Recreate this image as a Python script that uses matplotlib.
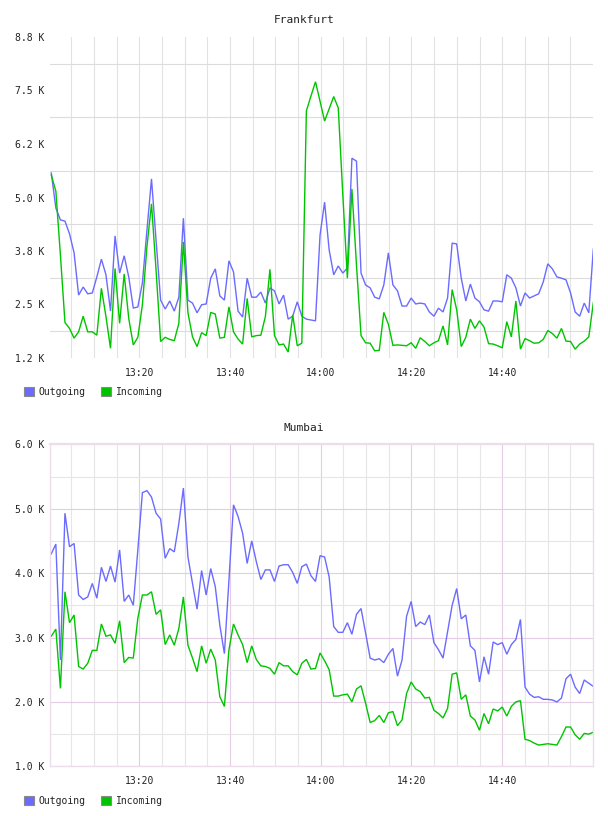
import numpy as np
import matplotlib
matplotlib.use("Agg")
import matplotlib.pyplot as plt
from matplotlib.patches import Patch

# ---------------- data (K per second, one sample per minute from ~13:00) ----------------
frankfurt_out = [5.58, 4.75, 4.47, 4.44, 4.14, 3.69, 2.69, 2.88, 2.72, 2.74,
                 3.12, 3.54, 3.17, 2.31, 4.09, 3.21, 3.62, 3.12, 2.38, 2.41,
                 2.98, 4.23, 5.44, 3.99, 2.57, 2.36, 2.55, 2.31, 2.64, 4.51,
                 2.57, 2.50, 2.27, 2.46, 2.48, 3.09, 3.31, 2.67, 2.57, 3.50,
                 3.24, 2.31, 2.17, 3.09, 2.64, 2.64, 2.76, 2.50, 2.86, 2.79,
                 2.48, 2.69, 2.12, 2.19, 2.53, 2.19, 2.12, 2.10, 2.08, 4.11,
                 4.89, 3.76, 3.17, 3.38, 3.21, 3.33, 5.93, 5.86, 3.21, 2.93,
                 2.86, 2.64, 2.60, 2.93, 3.69, 2.93, 2.79, 2.43, 2.43, 2.62,
                 2.48, 2.50, 2.48, 2.29, 2.19, 2.38, 2.29, 2.62, 3.92, 3.90,
                 3.09, 2.55, 2.95, 2.62, 2.53, 2.34, 2.31, 2.55, 2.55, 2.53,
                 3.17, 3.09, 2.86, 2.43, 2.74, 2.62, 2.67, 2.72, 3.00, 3.43,
                 3.31, 3.12, 3.09, 3.05, 2.74, 2.29, 2.19, 2.50, 2.27, 3.78]

frankfurt_in = [5.53, 5.15, 3.64, 2.04, 1.90, 1.67, 1.82, 2.19, 1.82, 1.82,
                1.74, 2.85, 2.18, 1.43, 3.32, 2.02, 3.19, 2.14, 1.51, 1.69,
                2.46, 3.84, 4.85, 3.28, 1.59, 1.69, 1.64, 1.61, 2.02, 3.95,
                2.27, 1.70, 1.47, 1.80, 1.73, 2.28, 2.24, 1.67, 1.69, 2.41,
                1.82, 1.65, 1.53, 2.61, 1.70, 1.73, 1.74, 2.18, 3.30, 1.73,
                1.51, 1.53, 1.34, 2.22, 1.49, 1.55, 7.05, 7.40, 7.74, 7.28,
                6.81, 7.10, 7.39, 7.12, 5.06, 3.09, 5.20, 3.40, 1.73, 1.56,
                1.55, 1.37, 1.38, 2.28, 2.00, 1.50, 1.51, 1.50, 1.49, 1.56,
                1.43, 1.68, 1.59, 1.49, 1.56, 1.61, 1.96, 1.51, 2.82, 2.34,
                1.47, 1.69, 2.12, 1.90, 2.08, 1.93, 1.54, 1.53, 1.49, 1.44,
                2.06, 1.70, 2.55, 1.41, 1.66, 1.61, 1.55, 1.56, 1.64, 1.85,
                1.78, 1.67, 1.90, 1.60, 1.59, 1.41, 1.53, 1.60, 1.70, 2.51]

mumbai_out = [4.30, 4.45, 2.65, 4.93, 4.41, 4.46, 3.66, 3.59, 3.63, 3.84,
              3.61, 4.09, 3.87, 4.11, 3.86, 4.36, 3.56, 3.66, 3.50, 4.36,
              5.25, 5.28, 5.18, 4.93, 4.84, 4.23, 4.38, 4.33, 4.77, 5.32,
              4.25, 3.84, 3.44, 4.04, 3.66, 4.07, 3.79, 3.19, 2.75, 3.89,
              5.06, 4.88, 4.62, 4.15, 4.50, 4.18, 3.90, 4.05, 4.05, 3.87,
              4.11, 4.13, 4.13, 4.01, 3.84, 4.10, 4.14, 3.96, 3.87, 4.27,
              4.25, 3.94, 3.17, 3.08, 3.08, 3.23, 3.05, 3.36, 3.45, 3.07,
              2.68, 2.65, 2.67, 2.61, 2.74, 2.83, 2.40, 2.65, 3.33, 3.56,
              3.17, 3.24, 3.20, 3.35, 2.92, 2.81, 2.68, 3.09, 3.50, 3.76,
              3.29, 3.35, 2.87, 2.80, 2.31, 2.70, 2.43, 2.93, 2.89, 2.92,
              2.74, 2.89, 2.97, 3.28, 2.23, 2.12, 2.07, 2.08, 2.04, 2.04,
              2.03, 2.00, 2.06, 2.36, 2.43, 2.23, 2.13, 2.34, 2.29, 2.24]

mumbai_in = [3.02, 3.13, 2.21, 3.71, 3.23, 3.35, 2.55, 2.51, 2.60, 2.80,
             2.80, 3.21, 3.02, 3.04, 2.91, 3.26, 2.61, 2.69, 2.68, 3.30,
             3.66, 3.66, 3.71, 3.36, 3.43, 2.89, 3.04, 2.88, 3.14, 3.63,
             2.88, 2.68, 2.47, 2.87, 2.60, 2.82, 2.65, 2.08, 1.93, 2.81,
             3.21, 3.04, 2.89, 2.61, 2.87, 2.66, 2.56, 2.55, 2.52, 2.43,
             2.61, 2.56, 2.56, 2.47, 2.42, 2.60, 2.66, 2.51, 2.52, 2.76,
             2.64, 2.50, 2.09, 2.09, 2.11, 2.12, 2.00, 2.20, 2.25, 1.98,
             1.68, 1.71, 1.79, 1.68, 1.83, 1.85, 1.63, 1.72, 2.13, 2.31,
             2.20, 2.16, 2.06, 2.07, 1.87, 1.82, 1.75, 1.90, 2.43, 2.45,
             2.04, 2.11, 1.78, 1.72, 1.56, 1.82, 1.66, 1.89, 1.86, 1.92,
             1.78, 1.93, 2.00, 2.02, 1.42, 1.40, 1.36, 1.33, 1.34, 1.35,
             1.34, 1.33, 1.46, 1.61, 1.61, 1.49, 1.42, 1.51, 1.50, 1.53]

series_labels = ["Outgoing", "Incoming"]
titles = ["Frankfurt", "Mumbai"]

# sample times in minutes after 13:00
sample_start = 0.55
sample_step = 1.0047
minutes = sample_start + np.arange(len(frankfurt_out)) * sample_step

time_ticks = [20, 40, 60, 80, 100]
time_labels = ["13:20", "13:40", "14:00", "14:20", "14:40"]
time_minor = [5, 10, 15, 25, 30, 35, 45, 50, 55, 65, 70, 75, 85, 90, 95, 105, 110, 115]

fr_ylabels = ["1.2 K", "2.5 K", "3.8 K", "5.0 K", "6.2 K", "7.5 K", "8.8 K"]
fr_ylim = (1.2, 8.8)
mu_yticks = [1, 2, 3, 4, 5, 6]
mu_ylabels = ["1.0 K", "2.0 K", "3.0 K", "4.0 K", "5.0 K", "6.0 K"]
mu_yminor = [1.5, 2.5, 3.5, 4.5, 5.5]

# ---------------- style ----------------
BLUE = "#6b6bff"
GREEN = "#00c400"
MONO = "DejaVu Sans Mono"
TXT = "#222222"
W, H = 608, 816

fig = plt.figure(figsize=(W / 100, H / 100), dpi=100)


def axes_px(x0, y0, x1, y1):
    return fig.add_axes([x0 / W, 1 - y1 / H, (x1 - x0) / W, (y1 - y0) / H])


def common(ax):
    ax.set_xlim(0.33, 120.1)
    ax.set_xticks(time_ticks)
    ax.set_xticklabels(time_labels)
    ax.set_xticks(time_minor, minor=True)
    ax.tick_params(which="both", length=0)
    ax.tick_params(axis="x", pad=7)
    ax.tick_params(axis="y", pad=4.5)
    for lab in ax.get_xticklabels() + ax.get_yticklabels():
        lab.set_fontfamily(MONO)
        lab.set_fontsize(7)
        lab.set_color(TXT)
    ax.set_axisbelow(True)


def draw_lines(ax, out_vals, in_vals):
    ax.plot(minutes, out_vals, color=BLUE, lw=1.0, solid_joinstyle="miter")
    ax.plot(minutes, in_vals, color=GREEN, lw=1.0, solid_joinstyle="miter")


def legend_at(y_px):
    handles = [Patch(facecolor=BLUE, edgecolor="#8a8a8a", linewidth=0.8, label=series_labels[0]),
               Patch(facecolor=GREEN, edgecolor="#8a8a8a", linewidth=0.8, label=series_labels[1])]
    leg = fig.legend(handles=handles, loc="center left", bbox_to_anchor=(24 / W, 1 - y_px / H),
                     ncol=2, frameon=False, prop={"family": MONO, "size": 7},
                     handlelength=1.0, handleheight=1.0, handletextpad=0.5,
                     columnspacing=1.6, borderpad=0, borderaxespad=0)
    for t in leg.get_texts():
        t.set_color(TXT)


# ---------------- Frankfurt ----------------
ax1 = axes_px(50.3, 37, 593.3, 358)
draw_lines(ax1, frankfurt_out, frankfurt_in)
ax1.set_ylim(*fr_ylim)
fr_ticks = np.linspace(fr_ylim[0], fr_ylim[1], len(fr_ylabels))
ax1.set_yticks(fr_ticks)
ax1.set_yticklabels(fr_ylabels)
ax1.set_yticks((fr_ticks[:-1] + fr_ticks[1:]) / 2, minor=True)
common(ax1)
ax1.grid(False)
ax1.grid(which="minor", axis="y", color="#dcdcdc", lw=0.8)
ax1.grid(which="both", axis="x", color="#e2e2e2", lw=0.8)
for s in ax1.spines.values():
    s.set_visible(False)
fig.text(0.5, 1 - 20 / H, titles[0], ha="center", va="center", fontsize=8, family=MONO, color=TXT)
legend_at(392)

# ---------------- Mumbai ----------------
ax2 = axes_px(50.3, 444.3, 593.3, 766.3)
draw_lines(ax2, mumbai_out, mumbai_in)
ax2.set_ylim(mu_yticks[0], mu_yticks[-1])
ax2.set_yticks(mu_yticks)
ax2.set_yticklabels(mu_ylabels)
ax2.set_yticks(mu_yminor, minor=True)
common(ax2)
ax2.grid(which="major", color="#e4cce4", lw=0.8)
ax2.grid(which="minor", color="#e6e6e6", lw=0.8)
for s in ax2.spines.values():
    s.set_color("#ecdcec")
    s.set_linewidth(1.0)
ax2.spines["top"].set_linewidth(1.6)
fig.text(0.5, 1 - 428 / H, titles[1], ha="center", va="center", fontsize=8, family=MONO, color=TXT)
legend_at(800.7)

fig.savefig("out.png", dpi=100, facecolor="white")
